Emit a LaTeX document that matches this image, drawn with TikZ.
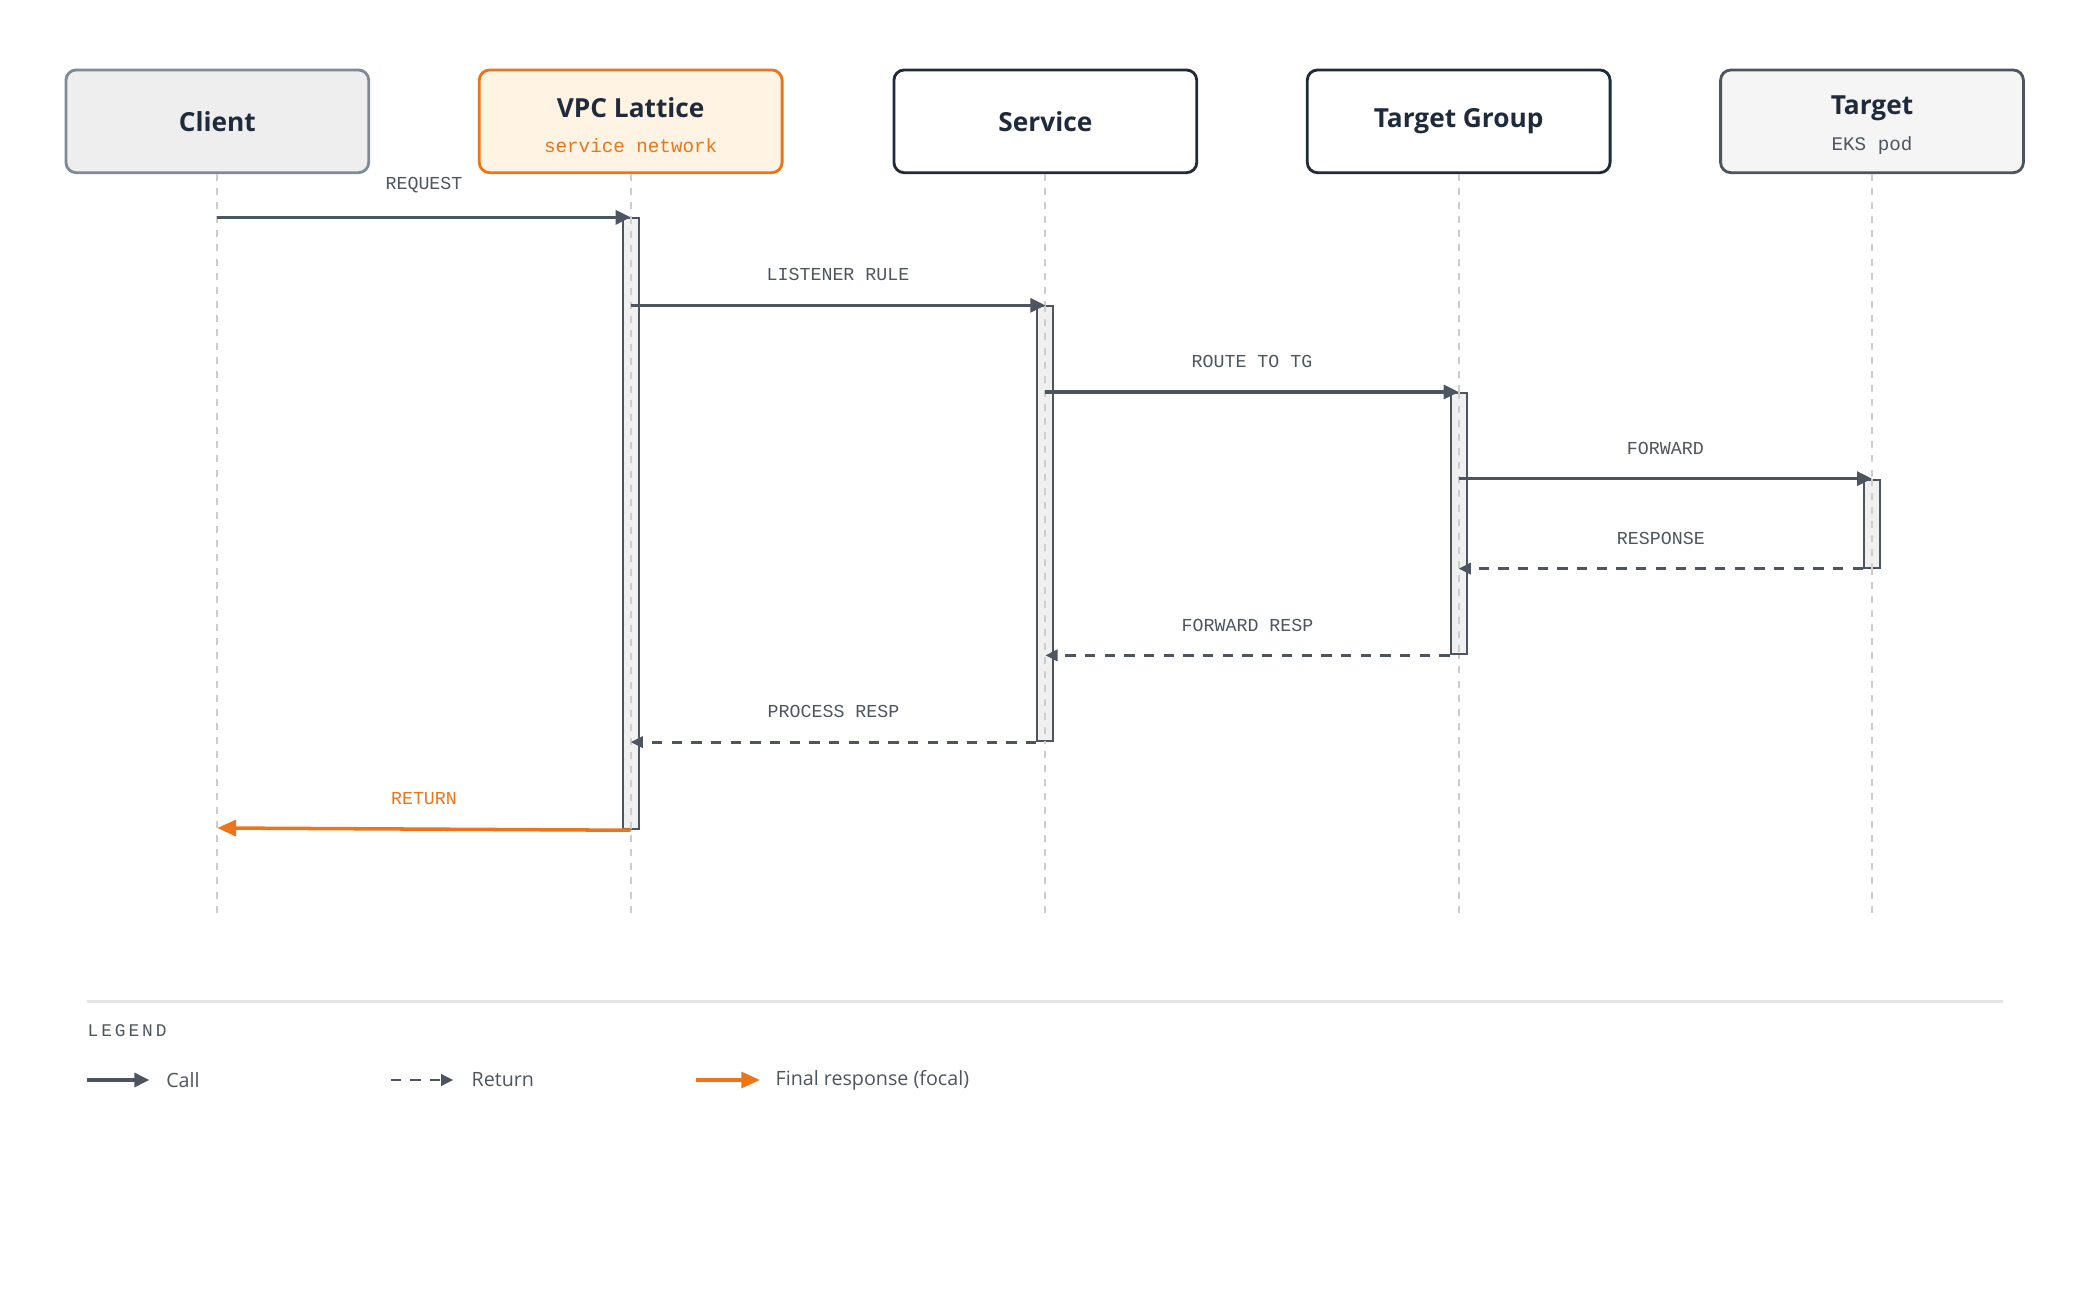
\documentclass[tikz,border=0pt]{standalone}
\usepackage{fontspec}
\setmainfont{Open Sans}
\setmonofont{Liberation Mono}
\usetikzlibrary{arrows.meta,positioning}
\definecolor{ink}{HTML}{1F2A3A}
\definecolor{wire}{HTML}{4D5560}
\definecolor{focal}{HTML}{EE7418}
\definecolor{focalbg}{HTML}{FFF4E3}
\definecolor{lifeg}{HTML}{CDCDCD}
\definecolor{boxg}{HTML}{7F8A99}
\tikzset{
  actor/.style={draw=ink,line width=0.6pt,rounded corners=2.2pt,minimum width=2.27cm,minimum height=0.77cm,fill=white},
  ttl/.style={font=\fontsize{5.6}{6.5}\selectfont\bfseries,text=ink,inner sep=0pt},
  sub/.style={font=\fontsize{4.1}{5}\selectfont\ttfamily,inner sep=0pt},
  lbl/.style={font=\fontsize{3.9}{4.5}\selectfont\ttfamily,text=wire},
  life/.style={lifeg,line width=0.4pt,dash pattern=on 1.5pt off 1.5pt},
  act/.style={draw=wire,fill=gray!12,line width=0.4pt,minimum width=0.12cm,inner sep=0pt},
  call/.style={wire,line width=0.65pt,-{Triangle[length=3.2pt,width=3pt]}},
  ret/.style={wire,line width=0.6pt,dash pattern=on 2.2pt off 2pt,-{Triangle[length=2.6pt,width=2.4pt]}},
  fin/.style={focal,line width=0.75pt,-{Triangle[length=4pt,width=3.4pt]}}
}
\begin{document}
\begin{tikzpicture}[x=0.01cm,y=-0.01cm]
\useasboundingbox (0,0) rectangle (1560,976);

% actors
\node[actor,draw=boxg,fill=gray!13] (client) at (163,91) {};
\node[actor,draw=focal,fill=focalbg] (lattice) at (473,91) {};
\node[actor] (service) at (784,91) {};
\node[actor] (group) at (1094,91) {};
\node[actor,draw=wire,fill=gray!8] (target) at (1404,91) {};
\node[ttl] at (client) {Client};
\node[ttl] at (473,81) {VPC Lattice};
\node[sub,text=focal] at (473,109) {service network};
\node[ttl] at (service) {Service};
\node[ttl] at (group) {Target Group};
\node[ttl] at (1404,81) {Target};
\node[sub,text=wire] at (1404,109) {EKS pod};

% lifelines
\foreach \a in {client,lattice,service,group,target}
	\draw[life] (\a.south) -- (\a.south |- 0,685);

% activation bars
\node[act,minimum height=4.58cm,anchor=north] (blat) at (473,163) {};
\node[act,minimum height=3.26cm,anchor=north] (bsvc) at (784,229) {};
\node[act,minimum height=1.96cm,anchor=north] (bgrp) at (1094,294) {};
\node[act,minimum height=0.66cm,anchor=north] (btgt) at (1404,359) {};
\foreach \a in {blat,bsvc,bgrp,btgt}
	\draw[life] (\a.north) -- (\a.south);

% messages
\coordinate (m1) at (163,163);
\coordinate (m8) at (163,621);
\draw[call] (m1) -- (blat.north) node[lbl,midway,above=1.5pt] {REQUEST};
\draw[call] (blat.north |- bsvc.north) -- (bsvc.north) node[lbl,midway,above=1.5pt] {LISTENER RULE};
\draw[call] (bsvc.north |- bgrp.north) -- (bgrp.north) node[lbl,midway,above=1.5pt] {ROUTE TO TG};
\draw[call] (bgrp.north |- btgt.north) -- (btgt.north) node[lbl,midway,above=1.5pt] {FORWARD};
\draw[ret] (btgt.south west) -- (bgrp.north |- btgt.south) node[lbl,midway,above=1.5pt] {RESPONSE};
\draw[ret] (bgrp.south west) -- (bsvc.north |- bgrp.south) node[lbl,midway,above=1.5pt] {FORWARD RESP};
\draw[ret] (bsvc.south west) -- (blat.north |- bsvc.south) node[lbl,midway,above=1.5pt] {PROCESS RESP};
\draw[fin] (blat.south) -- (m8) node[lbl,text=focal,midway,above=1.5pt] {RETURN};

% legend
\draw[gray!20,line width=0.5pt] (65,751) -- (1502,751);
\node[anchor=west,inner sep=0pt,font=\fontsize{3.8}{4}\selectfont\ttfamily,text=wire] (legend) at (65,773) {L\,E\,G\,E\,N\,D};
\coordinate (k1) at (65,810);
\coordinate (k2) at (112,810);
\coordinate (k3) at (293,810);
\coordinate (k4) at (340,810);
\coordinate (k5) at (522,810);
\coordinate (k6) at (570,810);
\draw[call] (k1) -- (k2);
\draw[ret] (k3) -- (k4);
\draw[fin] (k5) -- (k6);
\node[anchor=west,inner sep=0pt,font=\fontsize{4.2}{5}\selectfont,text=wire] at (124,810) {Call};
\node[anchor=west,inner sep=0pt,font=\fontsize{4.2}{5}\selectfont,text=wire] at (353,810) {Return};
\node[anchor=west,inner sep=0pt,font=\fontsize{4.2}{5}\selectfont,text=wire] at (581,810) {Final response (focal)};
\end{tikzpicture}
\end{document}
